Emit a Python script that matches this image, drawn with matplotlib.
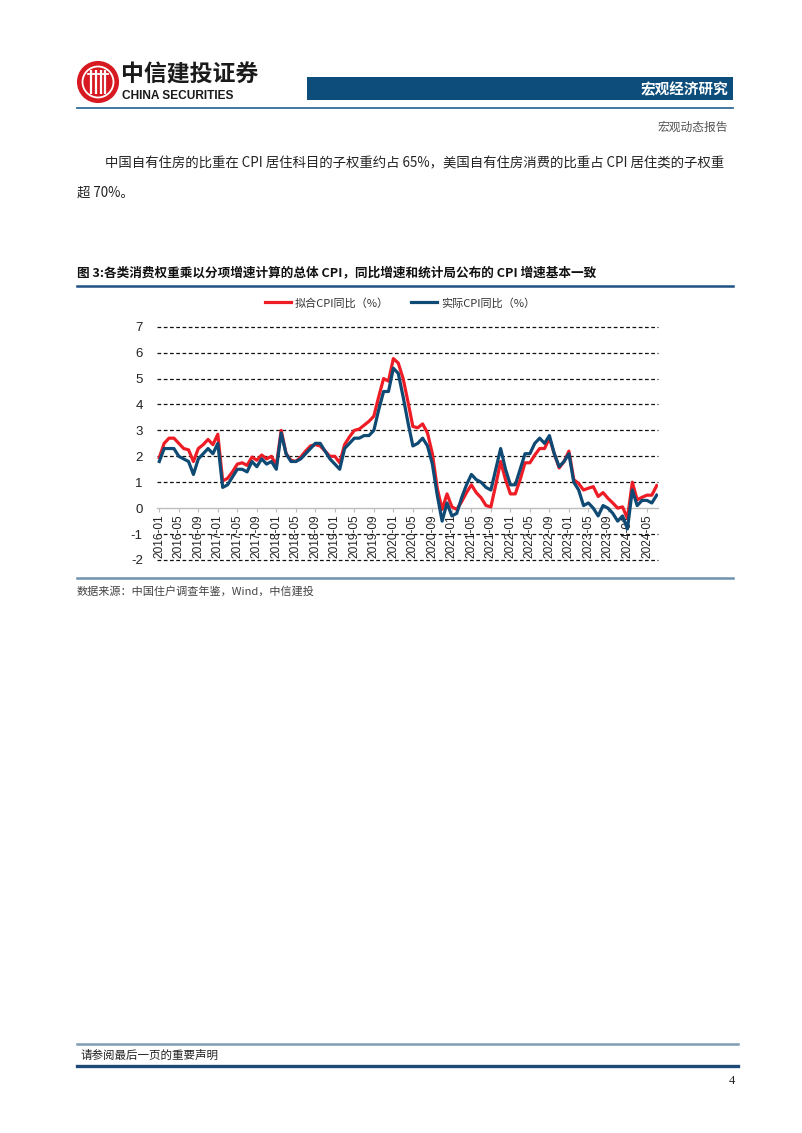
import matplotlib
matplotlib.use("Agg")
import matplotlib.pyplot as plt
from matplotlib.patches import Circle, Rectangle
import numpy as np

plt.rcParams['font.family'] = ['Noto Sans CJK SC', 'DejaVu Sans']

# ---------------- data ----------------
months = [f"{y}-{m:02d}" for y in range(2016, 2025) for m in range(1, 13)][:103]

fitted_cpi = [
    1.95, 2.5, 2.7, 2.7, 2.5, 2.3, 2.25, 1.8, 2.3, 2.45, 2.65, 2.45,
    2.85, 1.05, 1.15, 1.4, 1.7, 1.75, 1.65, 1.97, 1.85, 2.05, 1.9, 2.0,
    1.65, 3.0, 2.1, 1.85, 1.8, 1.97, 2.2, 2.4, 2.45, 2.4, 2.2, 2.0,
    2.0, 1.75, 2.45, 2.75, 3.0, 3.05, 3.2, 3.35, 3.55, 4.3, 5.0, 4.9,
    5.77, 5.6, 5.0, 4.1, 3.15, 3.1, 3.25, 2.9, 2.1, 0.77, -0.05, 0.55,
    0.05, -0.05, 0.25, 0.6, 0.9, 0.6, 0.4, 0.1, 0.05, 0.9, 1.8, 1.1,
    0.55, 0.55, 1.1, 1.75, 1.75, 2.05, 2.3, 2.3, 2.7, 2.1, 1.55, 1.8,
    2.2, 1.1, 0.95, 0.7, 0.77, 0.83, 0.45, 0.6, 0.38, 0.2, 0.0, 0.05,
    -0.4, 1.0, 0.32, 0.42, 0.5, 0.5, 0.87,
]

actual_cpi = [
    1.8, 2.3, 2.3, 2.3, 2.0, 1.9, 1.8, 1.3, 1.9, 2.1, 2.3, 2.1,
    2.5, 0.8, 0.9, 1.2, 1.5, 1.5, 1.4, 1.8, 1.6, 1.9, 1.7, 1.8,
    1.5, 2.9, 2.1, 1.8, 1.8, 1.9, 2.1, 2.3, 2.5, 2.5, 2.2, 1.9,
    1.7, 1.5, 2.3, 2.5, 2.7, 2.7, 2.8, 2.8, 3.0, 3.8, 4.5, 4.5,
    5.4, 5.2, 4.3, 3.3, 2.4, 2.5, 2.7, 2.4, 1.7, 0.5, -0.5, 0.2,
    -0.3, -0.2, 0.4, 0.9, 1.3, 1.1, 1.0, 0.8, 0.7, 1.5, 2.3, 1.5,
    0.9, 0.9, 1.5, 2.1, 2.1, 2.5, 2.7, 2.5, 2.8, 2.1, 1.6, 1.8,
    2.1, 1.0, 0.7, 0.1, 0.2, 0.0, -0.3, 0.1, 0.0, -0.2, -0.5, -0.3,
    -0.8, 0.7, 0.1, 0.3, 0.3, 0.2, 0.5,
]

series_names = ["拟合CPI同比（%）", "实际CPI同比（%）"]
tick_labels = months[::4]
y_ticks = list(range(-2, 8))

# ---------------- figure ----------------
W, H = 802, 1133
fig = plt.figure(figsize=(W / 100, H / 100), dpi=100)
fig.patch.set_facecolor("white")

page = fig.add_axes([0, 0, 1, 1])
page.set_xlim(0, W)
page.set_ylim(H, 0)
page.axis("off")

DARK_BLUE = "#0c4d7c"
RED = "#ee1c25"
LINE_BLUE = "#0e4a74"

# logo
page.add_patch(Circle((98, 82), 20, facecolor="#d71a21", edgecolor="none"))
page.add_patch(Circle((98, 82), 15.5, facecolor="none", edgecolor="white", lw=1.3))
for dx in (-7, -2.5, 2.5, 7):
    page.plot([98 + dx, 98 + dx], [70, 94], color="white", lw=1.6, solid_capstyle="butt")
page.plot([88, 108], [74, 74], color="white", lw=1.3)
page.add_patch(Circle((98, 82), 20, facecolor="none", edgecolor="#d71a21", lw=1.5))
page.text(121, 75, "中信建投证券", fontsize=16.5, fontweight="bold", color="#1a1a1a",
          va="center", ha="left")
page.text(122, 96, "CHINA SECURITIES", fontsize=8.6, fontweight="bold", color="#1a1a1a",
          va="center", ha="left", family="Liberation Sans")

# banner
page.add_patch(Rectangle((307, 77), 426, 23, facecolor=DARK_BLUE, edgecolor="none"))
page.text(728, 89, "宏观经济研究", fontsize=10.5, fontweight="bold", color="white",
          va="center", ha="right")
page.plot([77, 733], [107.5, 107.5], color="#2f6b99", lw=1.3)
page.text(728, 127, "宏观动态报告", fontsize=8.5, color="#555555", va="center", ha="right")

# body text
page.text(105, 163, "中国自有住房的比重在 CPI 居住科目的子权重约占 65%，美国自有住房消费的比重占 CPI 居住类的子权重",
          fontsize=9.65, color="#222222", va="center", ha="left")
page.text(77, 193, "超 70%。", fontsize=9.65, color="#222222", va="center", ha="left")

# figure title
page.text(77, 273, "图 3:各类消费权重乘以分项增速计算的总体 CPI，同比增速和统计局公布的 CPI 增速基本一致",
          fontsize=9.1, fontweight="bold", color="#111111", va="center", ha="left")
page.plot([77, 733], [286, 286], color="#1f5282", lw=1.8)

# bottom of chart + source
page.plot([77, 733], [578, 578], color="#6f93ad", lw=1.8)
page.text(77, 591, "数据来源：中国住户调查年鉴，Wind，中信建投", fontsize=8, color="#444444",
          va="center", ha="left")

# footer
page.plot([77, 738], [1044, 1044], color="#7e9db3", lw=1.8)
page.text(80, 1055, "请参阅最后一页的重要声明", fontsize=8.3, color="#222222", va="center", ha="left")
page.plot([77, 738], [1066, 1066], color="#1f4a78", lw=2.4)
page.text(735, 1081, "4", fontsize=9, color="#222222", va="center", ha="right",
          family="Liberation Serif")

# ---------------- chart ----------------
left_px, right_px = 156.7, 658.3
top_px, bot_px = 326.7, 560.0
ax = fig.add_axes([left_px / W, 1 - bot_px / H, (right_px - left_px) / W, (bot_px - top_px) / H])
ax.set_facecolor("none")

x = np.arange(len(months))
ax.plot(x, fitted_cpi, color=RED, lw=2.3, label=series_names[0], zorder=3)
ax.plot(x, actual_cpi, color=LINE_BLUE, lw=2.3, label=series_names[1], zorder=4)

ax.set_xlim(-0.53, 102.33)
ax.set_ylim(-2, 7)
ax.set_yticks(y_ticks)
ax.set_yticklabels([str(v) for v in y_ticks], family="Liberation Sans", fontsize=9.5, color="#222222")
for v in y_ticks:
    if v != 0:
        ax.axhline(v, color="#111111", lw=0.9, ls=(0, (3, 2)), zorder=1, clip_on=False)

for s in ("top", "right", "left"):
    ax.spines[s].set_visible(False)
ax.spines["bottom"].set_position(("data", 0))
ax.spines["bottom"].set_color("#bdbdbd")
ax.spines["bottom"].set_linewidth(1.0)

ax.set_xticks(x[::4])
ax.set_xticklabels(tick_labels)
ax.tick_params(axis="x", length=3, color="#bdbdbd", pad=1.5, labelrotation=90,
               labelsize=8.6, labelcolor="#222222")
for lab in ax.get_xticklabels():
    lab.set_family("Liberation Sans")
    lab.set_rotation(90)
    lab.set_va("top")
    lab.set_ha("center")
ax.tick_params(axis="y", length=0, pad=10)

leg = ax.legend(loc="center", bbox_to_anchor=(400 / W, 1 - 303 / H), bbox_transform=fig.transFigure,
                ncol=2, frameon=False, fontsize=8, handlelength=2.35, handletextpad=0.35,
                columnspacing=2.0, borderpad=0)
for t in leg.get_texts():
    t.set_color("#333333")

fig.savefig("out.png", dpi=100, facecolor="white")
